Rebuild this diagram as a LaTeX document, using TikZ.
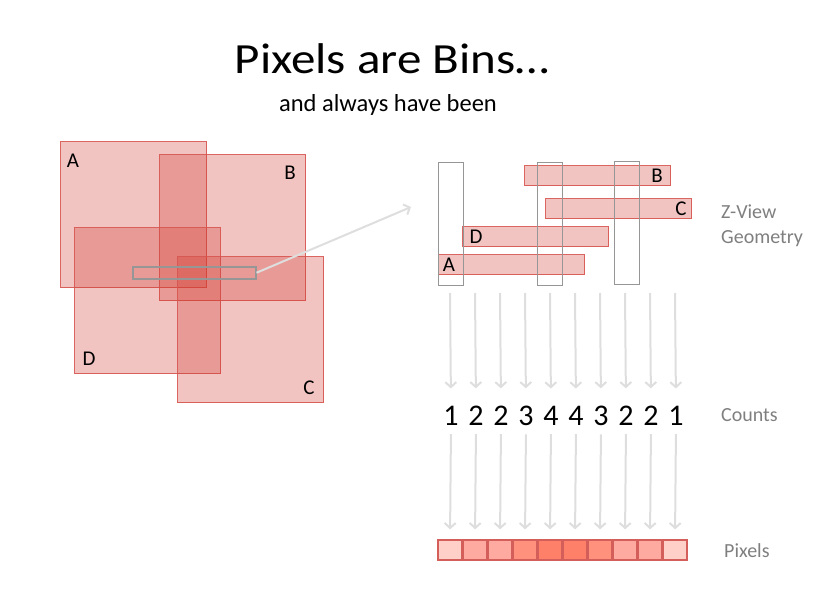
\documentclass[tikz,border=0pt]{standalone}
\usepackage{fontspec}
\setmainfont{Carlito}
\usetikzlibrary{arrows.meta}

\definecolor{binred}{RGB}{210,60,50}
\definecolor{binedge}{RGB}{215,85,80}
\definecolor{wingray}{RGB}{150,150,150}
\definecolor{flowgray}{RGB}{222,222,222}
\definecolor{notegray}{RGB}{127,127,127}
\definecolor{pxedge}{RGB}{212,95,90}
\definecolor{pxone}{RGB}{255,208,200}
\definecolor{pxtwo}{RGB}{255,170,160}
\definecolor{pxthree}{RGB}{255,145,125}
\definecolor{pxfour}{RGB}{255,128,105}

\def\colx{450}
\def\topy{293}
\def\county{425}
\def\pixy{550}

\begin{document}
\begin{tikzpicture}[x=1pt, y=-1pt,
    bin/.style={draw=binedge, fill=binred, fill opacity=0.3, draw opacity=0.9, line width=1pt, inner sep=0pt, anchor=north west},
    square/.style={bin, minimum width=146pt, minimum height=146pt},
    bar/.style={bin, minimum width=146pt, minimum height=20pt},
    column/.style={draw=wingray, line width=1.2pt, inner sep=0pt, anchor=north west, minimum width=25pt, minimum height=123pt},
    tag/.style={font=\fontsize{21}{21}\selectfont, inner sep=0pt},
    note/.style={font=\fontsize{20}{25}\selectfont, text=notegray, align=left, anchor=west, inner sep=0pt},
    count/.style={font=\fontsize{30}{30}\selectfont, inner sep=0pt, anchor=base},
    pixel/.style={draw=pxedge, line width=1.3pt, minimum width=24pt, minimum height=20pt, inner sep=0pt},
    flow/.style={draw=flowgray, line width=2pt, -{Straight Barb[length=5pt, width=11pt]}}]
    \useasboundingbox (0,0) rectangle (834,591);

    \node[font=\fontsize{43}{43}\selectfont, anchor=base] (title) at (392,74) {\scalebox{1.14}[1]{Pixels are Bins…}};
    \node[font=\fontsize{24.5}{24.5}\selectfont, anchor=base] (subtitle) at (388,112) {and always have been};

    \node[square] (sqA) at (60,141) {};
    \node[square] (sqB) at (159,154) {};
    \node[square] (sqD) at (74,227) {};
    \node[square] (sqC) at (177,256) {};
    \node[tag] at ([shift={(13,20)}]sqA.north west) {A};
    \node[tag] at ([shift={(-16,19)}]sqB.north east) {B};
    \node[tag] at ([shift={(15,-15)}]sqD.south west) {D};
    \node[tag] at ([shift={(-15,-15)}]sqC.south east) {C};

    \node[draw=wingray, line width=1.5pt, minimum width=123pt, minimum height=12pt, inner sep=0pt, anchor=north west] (window) at (132,266) {};
    \coordinate (aim) at (411,207);
    \draw[flow] (window.east) -- (aim);

    \node[bar] (barB) at (524,165) {};
    \node[bar] (barC) at (545,198) {};
    \node[bar] (barD) at (462,226) {};
    \node[bar] (barA) at (438,254) {};
    \node[tag] at ([xshift=-14]barB.east) {B};
    \node[tag] at ([xshift=-11]barC.east) {C};
    \node[tag] at ([xshift=14]barD.west) {D};
    \node[tag] at ([xshift=11]barA.west) {A};

    \node[column] (colA) at (437.5,162) {};
    \node[column] (colB) at (536.5,162) {};
    \node[column] (colC) at (613.5,161) {};

    \node[note] (zview) at (721,226) {Z-View\\Geometry};
    \node[note] (counts) at (721,415) {Counts};
    \node[note] (pixels) at (724,551) {Pixels};

    \foreach \i/\n/\shade in {1/1/pxone, 2/2/pxtwo, 3/2/pxtwo, 4/3/pxthree, 5/4/pxfour,
                              6/4/pxfour, 7/3/pxthree, 8/2/pxtwo, 9/2/pxtwo, 10/1/pxone} {
        \coordinate (top\i) at ({\colx+25*(\i-1)},\topy);
        \node[count] (cnt\i) at ({\colx+1+25*(\i-1)},\county) {\n};
        \node[pixel, fill=\shade] (px\i) at ({\colx+25*(\i-1)},\pixy) {};
        \draw[flow, shorten >=17pt] (top\i) -- (cnt\i.north);
        \draw[flow, shorten <=9pt, shorten >=10pt] (cnt\i.south) -- (px\i.north);
    }
\end{tikzpicture}
\end{document}
